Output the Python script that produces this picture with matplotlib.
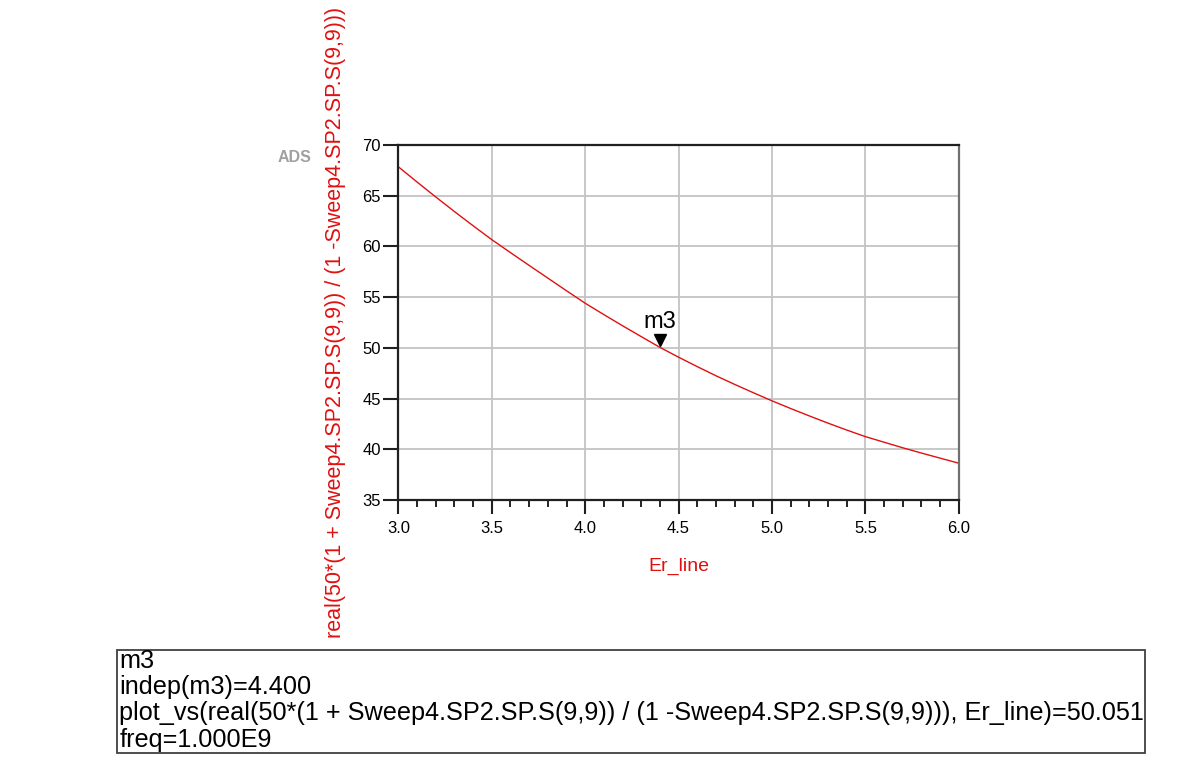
import matplotlib
matplotlib.use('Agg')
import matplotlib.pyplot as plt
from matplotlib.ticker import MultipleLocator
import matplotlib.transforms as mtransforms

plt.rcParams['font.family'] = ['Liberation Sans', 'DejaVu Sans']

# values (Er_line sweep, 0.1 step)
er_line = [3.0, 3.1, 3.2, 3.3, 3.4, 3.5, 3.6, 3.7, 3.8, 3.9,
           4.0, 4.1, 4.2, 4.3, 4.4, 4.5, 4.6, 4.7, 4.8, 4.9,
           5.0, 5.1, 5.2, 5.3, 5.4, 5.5, 5.6, 5.7, 5.8, 5.9, 6.0]
z_real = [67.85, 66.35, 64.88, 63.44, 62.04, 60.67, 59.39, 58.13, 56.88, 55.63,
          54.40, 53.28, 52.18, 51.11, 50.05, 49.08, 48.15, 47.25, 46.40, 45.58,
          44.78, 44.02, 43.29, 42.58, 41.90, 41.25, 40.70, 40.15, 39.63, 39.13, 38.63]
marker_x = 4.4
marker_y = 50.051
x_ticks = [3.0, 3.5, 4.0, 4.5, 5.0, 5.5, 6.0]
y_ticks = [35, 40, 45, 50, 55, 60, 65, 70]

expr = 'real(50*(1 + Sweep4.SP2.SP.S(9,9)) / (1 -Sweep4.SP2.SP.S(9,9)))'

fig = plt.figure(figsize=(12, 7.78), dpi=100)
ax = fig.add_axes([0.332, 0.3573, 0.467, 0.4563])

ax.plot(er_line, z_real, color='#e01010', lw=1.0)

# marker m3: triangle sitting on the curve
trans = mtransforms.offset_copy(ax.transData, fig=fig, y=5, units='points')
ax.plot([marker_x], [marker_y], marker='v', color='black', ms=9, transform=trans)
ax.annotate('m3', (marker_x, marker_y), xytext=(0, 10), textcoords='offset points',
            ha='center', va='bottom', fontsize=17)

ax.set_xlim(3.0, 6.0)
ax.set_ylim(35, 70)
ax.set_xticks(x_ticks)
ax.set_xticklabels(['%.1f' % v for v in x_ticks])
ax.set_yticks(y_ticks)
ax.xaxis.set_minor_locator(MultipleLocator(0.1))
ax.tick_params(axis='both', which='major', direction='out', width=1.5, labelsize=12, color='#202020')
ax.tick_params(axis='x', which='major', length=10, pad=5)
ax.tick_params(axis='x', which='minor', length=5, width=1.2, direction='out')
ax.tick_params(axis='y', which='major', length=11, pad=1.5)
ax.grid(True, which='major', color='#c4c4c4', lw=1.3)
ax.set_axisbelow(True)

for s in ['left', 'bottom', 'top']:
    ax.spines[s].set_linewidth(1.6)
    ax.spines[s].set_color('#202020')
ax.spines['right'].set_linewidth(1.6)
ax.spines['right'].set_color('#707070')

ax.set_xlabel('Er_line', color='#e01010', fontsize=14, labelpad=16)
ax.set_ylabel(expr, color='#e01010', fontsize=15.5, labelpad=12)

fig.text(0.231, 0.797, 'ADS', color='#a0a0a0', fontsize=11.5, fontweight='bold',
         ha='left', va='center')

# marker readout box
box = plt.Rectangle((0.0975, 0.032), 0.857, 0.132, transform=fig.transFigure,
                    fill=False, edgecolor='#404040', lw=1.3)
fig.add_artist(box)
readout = ('m3\nindep(m3)=4.400\nplot_vs(%s, Er_line)=%.3f\nfreq=1.000E9' % (expr, marker_y))
fig.text(0.0995, 0.166, readout, fontsize=18.2, ha='left', va='top', linespacing=1.12)

fig.savefig('out.png', dpi=100)
